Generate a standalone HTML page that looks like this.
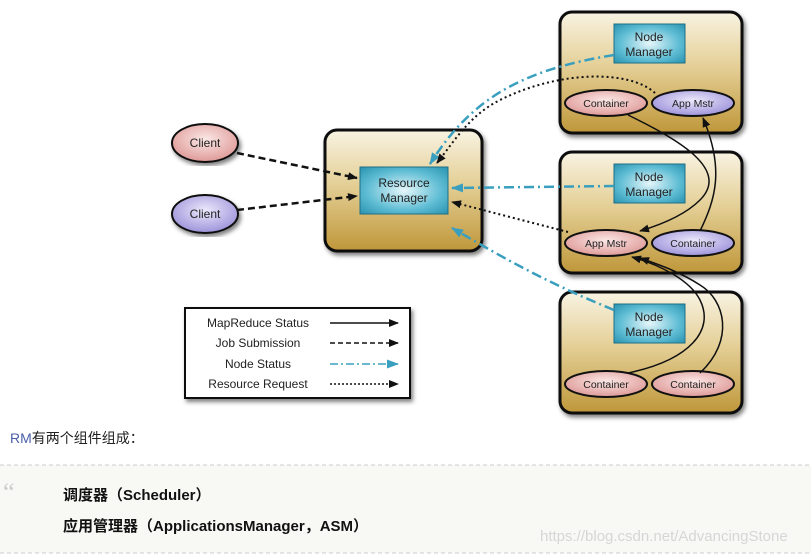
<!DOCTYPE html>
<html><head><meta charset="utf-8"><style>
body{margin:0;width:811px;height:556px;background:#fff;overflow:hidden;position:relative;font-family:"Liberation Sans","Noto Sans CJK SC",sans-serif}
.t{position:absolute;white-space:nowrap}
</style></head><body>
<svg width="811" height="556" style="position:absolute;left:0;top:0">
<defs>
<linearGradient id="g" x1="0" y1="0" x2="0" y2="1">
<stop offset="0" stop-color="#f8f3e2"/><stop offset="0.45" stop-color="#e4cf96"/><stop offset="1" stop-color="#bf973a"/></linearGradient>
<radialGradient id="b" cx="0.5" cy="0.5" r="0.7"><stop offset="0" stop-color="#e6f6fa"/><stop offset="0.6" stop-color="#5fbdd4"/><stop offset="1" stop-color="#2a93b0"/></radialGradient>
<radialGradient id="p" cx="0.5" cy="0.4" r="0.7"><stop offset="0" stop-color="#fbe8e6"/><stop offset="1" stop-color="#d98c8a"/></radialGradient>
<radialGradient id="v" cx="0.5" cy="0.4" r="0.7"><stop offset="0" stop-color="#ece8fb"/><stop offset="1" stop-color="#8f84d4"/></radialGradient>
<marker id="ak" markerWidth="10" markerHeight="8" refX="9" refY="4" orient="auto" markerUnits="userSpaceOnUse"><path d="M0,0L10,4L0,8z" fill="#111"/></marker>
<marker id="ab" markerWidth="12" markerHeight="9" refX="11" refY="4.5" orient="auto" markerUnits="userSpaceOnUse"><path d="M0,0L12,4.5L0,9z" fill="#3a9fbf"/></marker>
<filter id="s"><feDropShadow dx="2" dy="3" stdDeviation="2" flood-color="#000" flood-opacity="0.5"/></filter>
</defs>
<g stroke="#111" stroke-width="3" fill="url(#g)" filter="url(#s)">
<rect x="325" y="130" width="157" height="121" rx="12"/>
<rect x="560" y="12" width="182" height="121" rx="12"/>
<rect x="560" y="152" width="182" height="121" rx="12"/>
<rect x="560" y="292" width="182" height="121" rx="12"/>
</g>
<g stroke="#1f6f86" stroke-width="1" fill="url(#b)">
<rect x="360" y="167" width="88" height="47"/>
<rect x="614" y="24" width="71" height="39"/>
<rect x="614" y="164" width="71" height="39"/>
<rect x="614" y="304" width="71" height="39"/>
</g>
<g stroke="#111" stroke-width="2">
<ellipse cx="205" cy="143" rx="33" ry="19" fill="url(#p)" filter="url(#s)"/>
<ellipse cx="205" cy="214" rx="33" ry="19" fill="url(#v)" filter="url(#s)"/>
<ellipse cx="606" cy="103" rx="41" ry="13" fill="url(#p)"/>
<ellipse cx="693" cy="103" rx="41" ry="13" fill="url(#v)"/>
<ellipse cx="606" cy="243" rx="41" ry="13" fill="url(#p)"/>
<ellipse cx="693" cy="243" rx="41" ry="13" fill="url(#v)"/>
<ellipse cx="606" cy="384" rx="41" ry="13" fill="url(#p)"/>
<ellipse cx="693" cy="384" rx="41" ry="13" fill="url(#p)"/>
</g>
<g fill="none">
<path d="M237,153L357,178" stroke="#111" stroke-width="2.5" stroke-dasharray="7,4" marker-end="url(#ak)"/>
<path d="M237,210L357,196" stroke="#111" stroke-width="2.5" stroke-dasharray="7,4" marker-end="url(#ak)"/>
<path d="M614,55C520,70 470,100 430,164" stroke="#3a9fbf" stroke-width="2.5" stroke-dasharray="10,4,2,4" marker-end="url(#ab)"/>
<path d="M614,186L452,188" stroke="#3a9fbf" stroke-width="2.5" stroke-dasharray="10,4,2,4" marker-end="url(#ab)"/>
<path d="M614,310C540,280 490,250 452,228" stroke="#3a9fbf" stroke-width="2.5" stroke-dasharray="10,4,2,4" marker-end="url(#ab)"/>
<path d="M655,93C630,70 560,70 500,100C470,115 455,140 437,163" stroke="#111" stroke-width="2" stroke-dasharray="2,3" marker-end="url(#ak)"/>
<path d="M568,232L452,202" stroke="#111" stroke-width="2" stroke-dasharray="2,3" marker-end="url(#ak)"/>
<path d="M628,115C680,140 730,170 700,200C685,215 660,225 640,231" stroke="#111" stroke-width="1.5" marker-end="url(#ak)"/>
<path d="M700,231C715,200 725,170 703,118" stroke="#111" stroke-width="1.5" marker-end="url(#ak)"/>
<path d="M628,373C690,360 715,330 700,300C690,280 660,265 632,257" stroke="#111" stroke-width="1.5" marker-end="url(#ak)"/>
<path d="M700,373C735,340 725,300 700,285C680,272 660,265 640,258" stroke="#111" stroke-width="1.5" marker-end="url(#ak)"/>
</g>
<rect x="185" y="308" width="225" height="90" fill="#fff" stroke="#111" stroke-width="2" filter="url(#s)"/>
<g fill="none">
<path d="M330,323L398,323" stroke="#111" stroke-width="1.5" marker-end="url(#ak)"/>
<path d="M330,343L398,343" stroke="#111" stroke-width="1.5" stroke-dasharray="5,3" marker-end="url(#ak)"/>
<path d="M330,364L398,364" stroke="#3a9fbf" stroke-width="1.5" stroke-dasharray="8,3,2,3" marker-end="url(#ab)"/>
<path d="M330,384L398,384" stroke="#111" stroke-width="1.5" stroke-dasharray="2,2" marker-end="url(#ak)"/>
</g>
<g font-family="Liberation Sans" font-size="12" fill="#222" text-anchor="middle">
<text x="205" y="147">Client</text><text x="205" y="218">Client</text>
<text x="404" y="187">Resource</text><text x="404" y="202">Manager</text>
<text x="649" y="41">Node</text><text x="649" y="56">Manager</text>
<text x="649" y="181">Node</text><text x="649" y="196">Manager</text>
<text x="649" y="321">Node</text><text x="649" y="336">Manager</text>
</g>
<g font-family="Liberation Sans" font-size="10.5" fill="#222" text-anchor="middle">
<text x="606" y="107">Container</text><text x="693" y="107">App Mstr</text>
<text x="606" y="247">App Mstr</text><text x="693" y="247">Container</text>
<text x="606" y="388">Container</text><text x="693" y="388">Container</text>
</g>
<g font-family="Liberation Sans" font-size="12" fill="#222" text-anchor="middle">
<text x="258" y="327">MapReduce Status</text>
<text x="258" y="347">Job Submission</text>
<text x="258" y="368">Node Status</text>
<text x="258" y="388">Resource Request</text>
</g>
<rect x="0" y="465" width="811" height="88" fill="#f8f8f5"/>
<line x1="0" y1="465" x2="811" y2="465" stroke="#ccc" stroke-dasharray="4,3"/>
<line x1="0" y1="553" x2="811" y2="553" stroke="#ccc" stroke-dasharray="4,3"/>
</svg>
<div class="t" style="left:10px;top:428px;font-size:14px;color:#222"><span style="color:#4a5fa8">RM</span>有两个组件组成：</div>
<div class="t" style="left:3px;top:478px;font-size:26px;color:#ccc;font-family:'Liberation Serif',serif">“</div>
<div class="t" style="left:63px;top:484px;font-size:15px;font-weight:bold;color:#111">调度器（Scheduler）</div>
<div class="t" style="left:63px;top:515px;font-size:15px;font-weight:bold;color:#111">应用管理器（ApplicationsManager，ASM）</div>
<div class="t" style="left:540px;top:528px;font-size:15px;color:#d6d6d6">https://blog.csdn.net/AdvancingStone</div>
</body></html>
